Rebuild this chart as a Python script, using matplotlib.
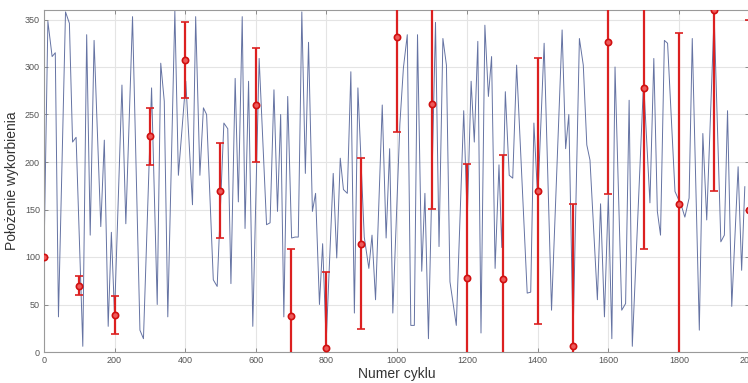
import matplotlib
matplotlib.use('Agg')
import matplotlib.pyplot as plt

plt.rcParams['font.family'] = ['Liberation Sans', 'DejaVu Sans']

# przebieg położenia wykorbienia (niebieska linia)
cycle_x = [
    0, 11, 23, 32, 41, 61, 72, 81, 91, 110,
    121, 131, 142, 161, 171, 182, 191, 200, 221, 232,
    251, 272, 282, 305, 321, 331, 341, 351, 371, 381,
    402, 421, 430, 442, 452, 461, 480, 491, 510, 521,
    530, 542, 551, 562, 570, 580, 592, 610, 631, 641,
    652, 662, 671, 680, 691, 702, 712, 721, 731, 741,
    750, 761, 770, 781, 790, 800, 820, 830, 840, 849,
    860, 870, 880, 890, 908, 921, 930, 940, 959, 970,
    980, 989, 1009, 1019, 1030, 1040, 1050, 1059, 1071, 1080,
    1090, 1110, 1120, 1131, 1141, 1151, 1169, 1190, 1200, 1211,
    1220, 1230, 1239, 1250, 1260, 1269, 1279, 1290, 1298, 1308,
    1319, 1329, 1340, 1370, 1380, 1389, 1400, 1418, 1439, 1469,
    1479, 1488, 1500, 1518, 1529, 1539, 1548, 1569, 1578, 1589,
    1600, 1610, 1619, 1638, 1649, 1659, 1668, 1700, 1718, 1729,
    1739, 1748, 1759, 1768, 1789, 1808, 1817, 1829, 1838, 1858,
    1868, 1879, 1900, 1919, 1929, 1938, 1950, 1968, 1978, 1987,
]
position_y = [
    100, 348, 311, 315, 37, 358, 346, 221, 226, 6,
    334, 123, 328, 132, 223, 27, 126, 39, 281, 135,
    353, 23, 14, 278, 50, 304, 264, 37, 359, 186,
    285, 155, 353, 186, 257, 250, 76, 69, 241, 235,
    72, 288, 158, 353, 130, 285, 27, 309, 134, 136,
    276, 148, 250, 37, 269, 120, 121, 121, 358, 188,
    326, 148, 167, 50, 114, 10, 188, 99, 204, 171,
    167, 295, 41, 278, 121, 88, 123, 55, 260, 120,
    214, 41, 240, 299, 334, 28, 28, 334, 85, 167,
    14, 347, 111, 330, 302, 74, 28, 254, 140, 285,
    221, 327, 20, 344, 269, 311, 88, 197, 110, 274,
    186, 183, 302, 62, 63, 241, 160, 325, 44, 339,
    214, 250, 15, 330, 302, 218, 202, 55, 156, 37,
    165, 14, 300, 44, 51, 265, 6, 285, 157, 309,
    148, 123, 328, 325, 169, 153, 142, 162, 330, 23,
    230, 139, 355, 116, 123, 254, 48, 195, 86, 174,
]

# punkty kontrolne z błędem (czerwone)
check_x = [0, 100, 200, 300, 400, 500, 600, 700, 800, 900, 1000,
           1100, 1200, 1300, 1400, 1500, 1600, 1700, 1800, 1900, 2000]
check_y = [100, 70, 39, 227, 307, 170, 260, 38, 4, 114, 332,
           261, 78, 77, 169, 6, 326, 278, 156, 360, 150]
check_err = [0, 10, 20, 30, 40, 50, 60, 70, 80, 90, 100,
             110, 120, 130, 140, 150, 160, 170, 180, 190, 200]

x_ticks = [0, 200, 400, 600, 800, 1000, 1200, 1400, 1600, 1800, 2000]
y_ticks = [0, 50, 100, 150, 200, 250, 300, 350]

fig = plt.figure(figsize=(7.48, 3.83), dpi=100)
ax = fig.add_axes([44 / 748, 31 / 383, 705.4 / 748, 342 / 383])

ax.plot(cycle_x, position_y, color='#6573a3', linewidth=0.7, zorder=2)
ax.errorbar(check_x, check_y, yerr=check_err, fmt='o', color='#dc2020',
            ecolor='#dc2020', elinewidth=1.6, capsize=3, capthick=1.2,
            markersize=4.5, markerfacecolor='#ee5a5a', markeredgecolor='#d01010',
            markeredgewidth=1.2, zorder=3)

ax.set_xlim(0, 2000)
ax.set_ylim(0, 360)
ax.set_xticks(x_ticks)
ax.set_yticks(y_ticks)
ax.grid(True, color='#e4e4e4', linewidth=0.8)
ax.set_axisbelow(True)

for s in ax.spines.values():
    s.set_color('#9a9a9a')
    s.set_linewidth(0.8)
ax.tick_params(direction='in', top=True, right=True, length=3, width=0.7,
               color='#8a8a8a', labelsize=6.5, labelcolor='#555555', pad=3)

ax.set_xlabel('Numer cyklu', fontsize=10, color='#333333', labelpad=1)
ax.set_ylabel('Położenie wykorbienia', fontsize=10, color='#333333', labelpad=4)

plt.savefig('out.png', dpi=100)
